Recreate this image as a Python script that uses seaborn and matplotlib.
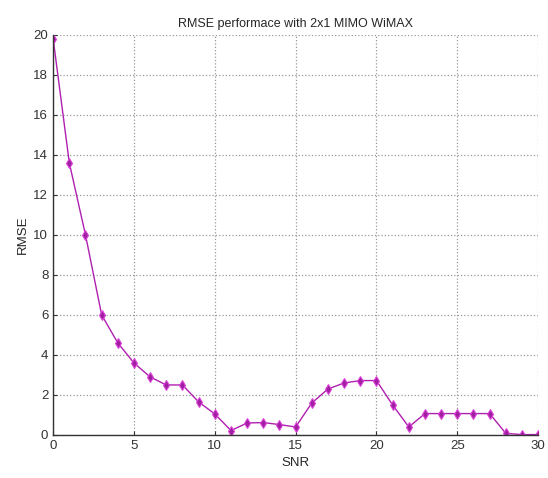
import matplotlib
matplotlib.use('Agg')
import matplotlib.pyplot as plt
import seaborn as sns
import pandas as pd

snr = list(range(0, 31))
rmse = [19.8, 13.6, 10.0, 6.0, 4.6, 3.6, 2.9, 2.5, 2.5, 1.65, 1.05,
        0.22, 0.6, 0.62, 0.52, 0.4, 1.6, 2.3, 2.6, 2.72, 2.72, 1.5,
        0.4, 1.07, 1.07, 1.07, 1.07, 1.07, 0.08, 0.02, 0.02]

df = pd.DataFrame({'SNR': snr, 'RMSE': rmse})

sns.set_style('white')
plt.rcParams['font.family'] = ['Liberation Sans', 'DejaVu Sans']

fig = plt.figure(figsize=(5.48, 4.78), dpi=100)
ax = fig.add_axes([0.097, 0.09, 0.885, 0.837])
sns.lineplot(data=df, x='SNR', y='RMSE', ax=ax, color='#b020b0', linewidth=1.0,
             marker='d', markersize=5, markeredgecolor='#e040e0', markerfacecolor='#a020a0')

ax.set_xlim(0, 30)
ax.set_ylim(0, 20)
ax.set_xticks(range(0, 31, 5))
ax.set_yticks(range(0, 21, 2))
ax.grid(True, linestyle=':', color='#999999', linewidth=0.9)
for s in ['top', 'right']:
    ax.spines[s].set_visible(False)
for s in ['left', 'bottom']:
    ax.spines[s].set_color('#333333')
    ax.spines[s].set_linewidth(1.0)
ax.tick_params(labelsize=9.5, colors='#333333', direction='in', length=3, left=True, bottom=True)
ax.set_xlabel('SNR', fontsize=9.5, labelpad=4)
ax.set_ylabel('RMSE', fontsize=9.5, labelpad=3)
ax.set_title('RMSE performace with 2x1 MIMO WiMAX', fontsize=9, pad=6)

fig.savefig('out.png', dpi=100)
